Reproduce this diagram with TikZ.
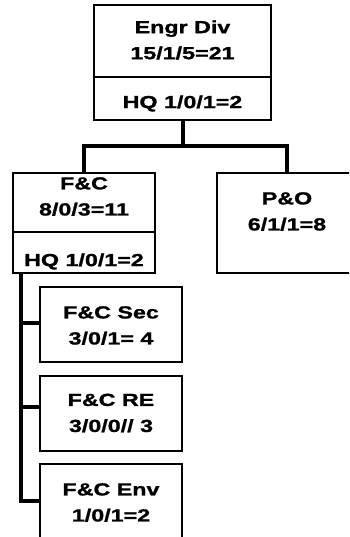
\documentclass[tikz,border=0pt]{standalone}
\usepackage{fontspec}
\newfontfamily\orgfont{Liberation Sans}[FakeStretch=1.33, BoldFeatures={FakeBold=1.2}]
\usetikzlibrary{positioning}
\definecolor{ink}{HTML}{000000}
\tikzset{
  box/.style={draw=ink, line width=1.6pt, fill=white, outer sep=0pt, inner sep=0pt},
  unitbox/.style={box, minimum width=142pt},
  lbl/.style={font=\orgfont\bfseries\fontsize{17.5}{26}\selectfont, text=ink, align=center, inner sep=0pt},
  conn/.style={draw=ink, line width=4pt},
}
\begin{document}
\begin{tikzpicture}[x=1pt,y=1pt]
\clip (0,0) rectangle (349,537);
% division
\node[box, minimum width=177pt, minimum height=72pt] (engr) at (182.5,496) {};
\node[box, below=0pt of engr, minimum width=177pt, minimum height=43pt] (engrhq) {};
% branches
\node[unitbox, below=53pt of engrhq, xshift=-98.5pt, minimum height=59pt] (fc) {};
\node[unitbox, below=0pt of fc, minimum height=41pt] (fchq) {};
\node[box, below=53pt of engrhq, xshift=104.5pt, minimum width=140pt, minimum height=100pt] (po) {};
\draw[conn](engrhq.south)--++(0,-26)-|(fc.north);\draw[conn](engrhq.south)--++(0,-26)-|(po.north);
% sections
\node[unitbox, below=14pt of fchq, xshift=27pt, minimum height=75pt] (sec) {};
\node[unitbox, below=14pt of sec, minimum height=75pt] (re) {};
\node[unitbox, below=13pt of re, minimum height=75pt] (env) {};
\coordinate (spine) at ([xshift=8pt]fchq.south west);
\draw[conn](spine)|-([yshift=1pt]sec.west);\draw[conn](spine)|-([yshift=6pt]re.west);\draw[conn](spine)|-(env.west);
% texts
\node[lbl] (engrtxt) at ([yshift=1pt]engr) {Engr Div\\15/1/5=21};
\node[lbl] (engrhqtxt) at ([yshift=-5pt]engrhq) {HQ 1/0/1=2};
\node[lbl] (fctxt) at ([yshift=6pt]fc) {F\&C\\8/0/3=11};
\node[lbl] (fchqtxt) at ([yshift=-9pt]fchq) {HQ 1/0/1=2};
\node[lbl] (potxt) at ([yshift=11.5pt]po) {P\&O\\6/1/1=8};
\node[lbl] (sectxt) at ([yshift=-1pt]sec) {F\&C Sec\\3/0/1= 4};
\node[lbl] (retxt) at ([yshift=0.5pt]re) {F\&C RE\\3/0/0// 3};
\node[lbl] (envtxt) at ([yshift=-1pt]env) {F\&C Env\\1/0/1=2};
\end{tikzpicture}
\end{document}
